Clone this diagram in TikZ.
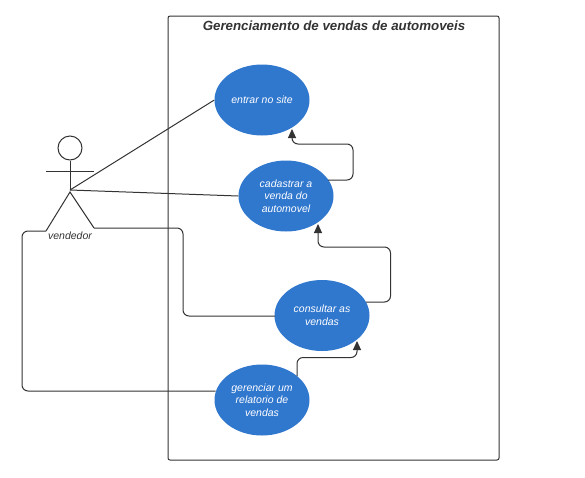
\documentclass[tikz,border=0pt]{standalone}
\usepackage{fontspec}
\setmainfont{Liberation Sans}
\usetikzlibrary{arrows.meta}
\usetikzlibrary{positioning}
\usetikzlibrary{shapes.geometric}
\definecolor{ublue}{HTML}{3077CE}
\definecolor{uline}{HTML}{333333}
\tikzset{usecase/.style = {ellipse, fill = ublue, text = white, align = center, inner sep = 0,
                           minimum width = 95, minimum height = 71, font = \fontsize{10.5}{12.6}\selectfont\itshape}}
\tikzset{link/.style = {uline, line width = 1, rounded corners = 6}}
\tikzset{arrowlink/.style = {link, -{Triangle[length = 9, width = 8]}}}

\begin{document}
\begin{tikzpicture}[x = 1pt, y = 1pt]
      \useasboundingbox (0, 0) rectangle (585, -477);

      \node [draw = uline, line width = 1, rounded corners = 2, minimum width = 331, minimum height = 444, inner sep = 0] (system) at (333.5, -238) {};
      \node [text = uline, font = \fontsize{13.3}{16}\selectfont\bfseries\itshape] (title) at (334, -26) {Gerenciamento de vendas de automoveis};

      \node [usecase] (entrar) at (262, -100) {entrar no site};
      \node [usecase] (cadastrar) at (286, -196) {cadastrar a\\venda do\\automovel};
      \node [usecase] (consultar) at (322, -315.5) {consultar as\\vendas};
      \node [usecase] (gerenciar) at (262, -400) {gerenciar um\\relatorio de\\vendas};

      % actor
      \node [draw = uline, circle, line width = 1, minimum size = 24, inner sep = 0] (head) at (70, -148) {};
      \coordinate (hip) at (70, -190);
      \coordinate (armleft) at (46, -171.5);
      \coordinate (armright) at (94, -171.5);
      \coordinate (footleft) at (46, -231);
      \coordinate (footright) at (94, -228);
      \draw [uline, line width = 1] (head) -- (hip);
      \draw [uline, line width = 1] (armleft) -- (armright);
      \draw [uline, line width = 1] (footleft) -- (70, -192) -- (footright);
      \node [text = uline, font = \fontsize{10.5}{12.6}\selectfont\itshape] (vendedor) at (70, -236) {vendedor};

      \draw [link] (hip) -- (entrar.west);
      \draw [link] (hip) -- (cadastrar.west);
      \draw [link] (footright) -- (183, -228) -- (183, -316) -- (275, -316);
      \draw [link] (footleft) -- (22, -231) -- (22, -391) -- (215.5, -391);

      \draw [arrowlink] (328, -180) -- (353, -180) -- (353, -144) -- (292, -144) -- (292, -129);
      \draw [arrowlink] (366, -302) -- (390.5, -302) -- (390.5, -247) -- (318, -247) -- (318, -224);
      \draw [arrowlink] (297, -376) -- (297, -357.5) -- (357, -357.5) -- (357, -341);
    \end{tikzpicture}
\end{document}
